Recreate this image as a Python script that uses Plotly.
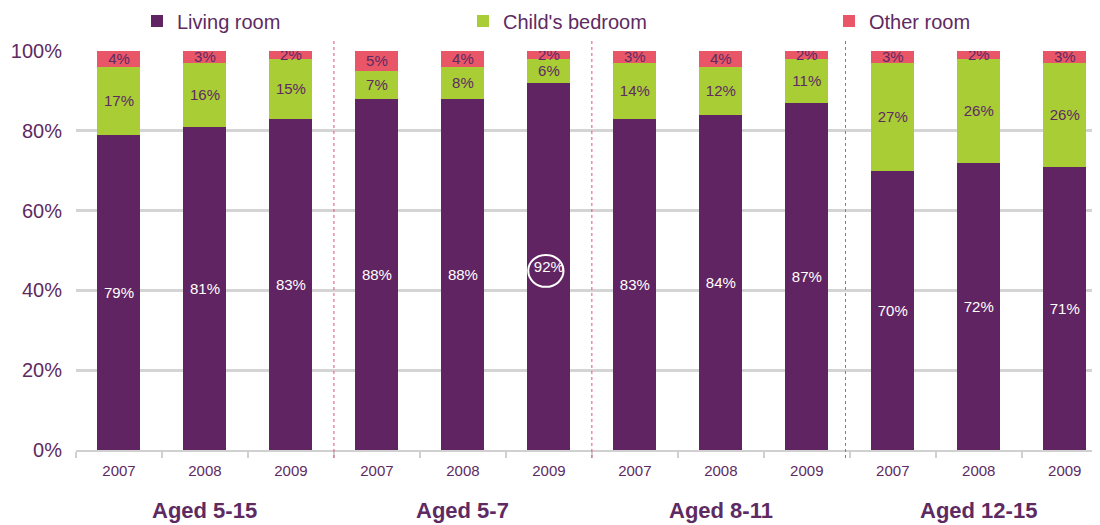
import plotly.graph_objects as go

years = ["2007", "2008", "2009"] * 4
groups = ["Aged 5-15", "Aged 5-7", "Aged 8-11", "Aged 12-15"]
living = [79, 81, 83, 88, 88, 92, 83, 84, 87, 70, 72, 71]
child = [17, 16, 15, 7, 8, 6, 14, 12, 11, 27, 26, 26]
other = [4, 3, 2, 5, 4, 2, 3, 4, 2, 3, 2, 3]

PURPLE = "#612462"
GREEN = "#a8cd35"
RED = "#e85668"
TXT = "#5e2a62"
FONT = "Liberation Sans, Arial, sans-serif"

W, H = 1092, 517  # page body has an 8px margin
T, B = 43, 75
PH = H - T - B

x = list(range(len(years)))

fig = go.Figure()
series = [
    ("Living room", living, PURPLE, "white", "legend"),
    ("Child's bedroom", child, GREEN, TXT, "legend2"),
    ("Other room", other, RED, TXT, "legend3"),
]
for name, vals, col, tcol, lg in series:
    fig.add_trace(go.Bar(
        x=x, y=vals, name=name, marker=dict(color=col, line=dict(width=0)),
        width=0.5, text=[f"{v}%" for v in vals], texttemplate="%{text}",
        textposition="inside", insidetextanchor="middle", textangle=0,
        textfont=dict(color=tcol, size=15, family=FONT),
        legend=lg, showlegend=True, hoverinfo="skip",
    ))

# group separators (dotted)
for b in [2.5, 5.5, 8.45]:
    fig.add_shape(type="line", xref="x", yref="paper", x0=b, x1=b, y0=-0.02, y1=1.03,
                  line=dict(color="#e0507a", width=1, dash="dot"))

# circle around 92%
fig.add_shape(type="circle", xref="x", yref="y", x0=4.76, x1=5.17, y0=40.9, y1=48.9,
              line=dict(color="white", width=2))

# group labels
for i, g in enumerate(groups):
    fig.add_annotation(x=3 * i + 1, y=-60 / PH, xref="x", yref="paper",
                       text=f"<b>{g}</b>", showarrow=False, yanchor="middle",
                       font=dict(size=22, color=TXT, family=FONT))

leg_common = dict(orientation="h", yanchor="middle", yref="container", y=1 - 13 / H,
                  xref="container", xanchor="left",
                  font=dict(size=20, color=TXT, family=FONT), bgcolor="rgba(0,0,0,0)",
                  itemwidth=30, tracegroupgap=0)

fig.update_layout(
    width=W, height=H,
    margin=dict(l=68, r=0, t=T, b=B, autoexpand=False),
    barmode="stack",
    plot_bgcolor="white", paper_bgcolor="white",
    font=dict(family=FONT, color=TXT),
    uniformtext=dict(minsize=15, mode="show"),
    legend=dict(x=129 / W, **leg_common),
    legend2=dict(x=455 / W, **leg_common),
    legend3=dict(x=821 / W, **leg_common),
    xaxis=dict(
        range=[-0.5, 11.41], tickvals=x, ticktext=years, ticks="", automargin=False,
        tickfont=dict(size=15, color=TXT, family=FONT), ticklabelstandoff=6,
        showgrid=False, zeroline=False, showline=True, linecolor="#d0d0d0", linewidth=2,
        minor=dict(tickvals=[i - 0.5 for i in range(12)], ticks="outside", ticklen=6,
                   tickcolor="#d0d0d0", tickwidth=2, showgrid=False),
    ),
    yaxis=dict(
        range=[0, 100], dtick=20, ticksuffix="%", automargin=False,
        tickfont=dict(size=20, color=TXT, family=FONT),
        showgrid=True, gridcolor="#d4d4d4", gridwidth=2.5, zeroline=False,
        showline=False, ticklabelstandoff=13,
    ),
)

fig.write_html("out.html")
